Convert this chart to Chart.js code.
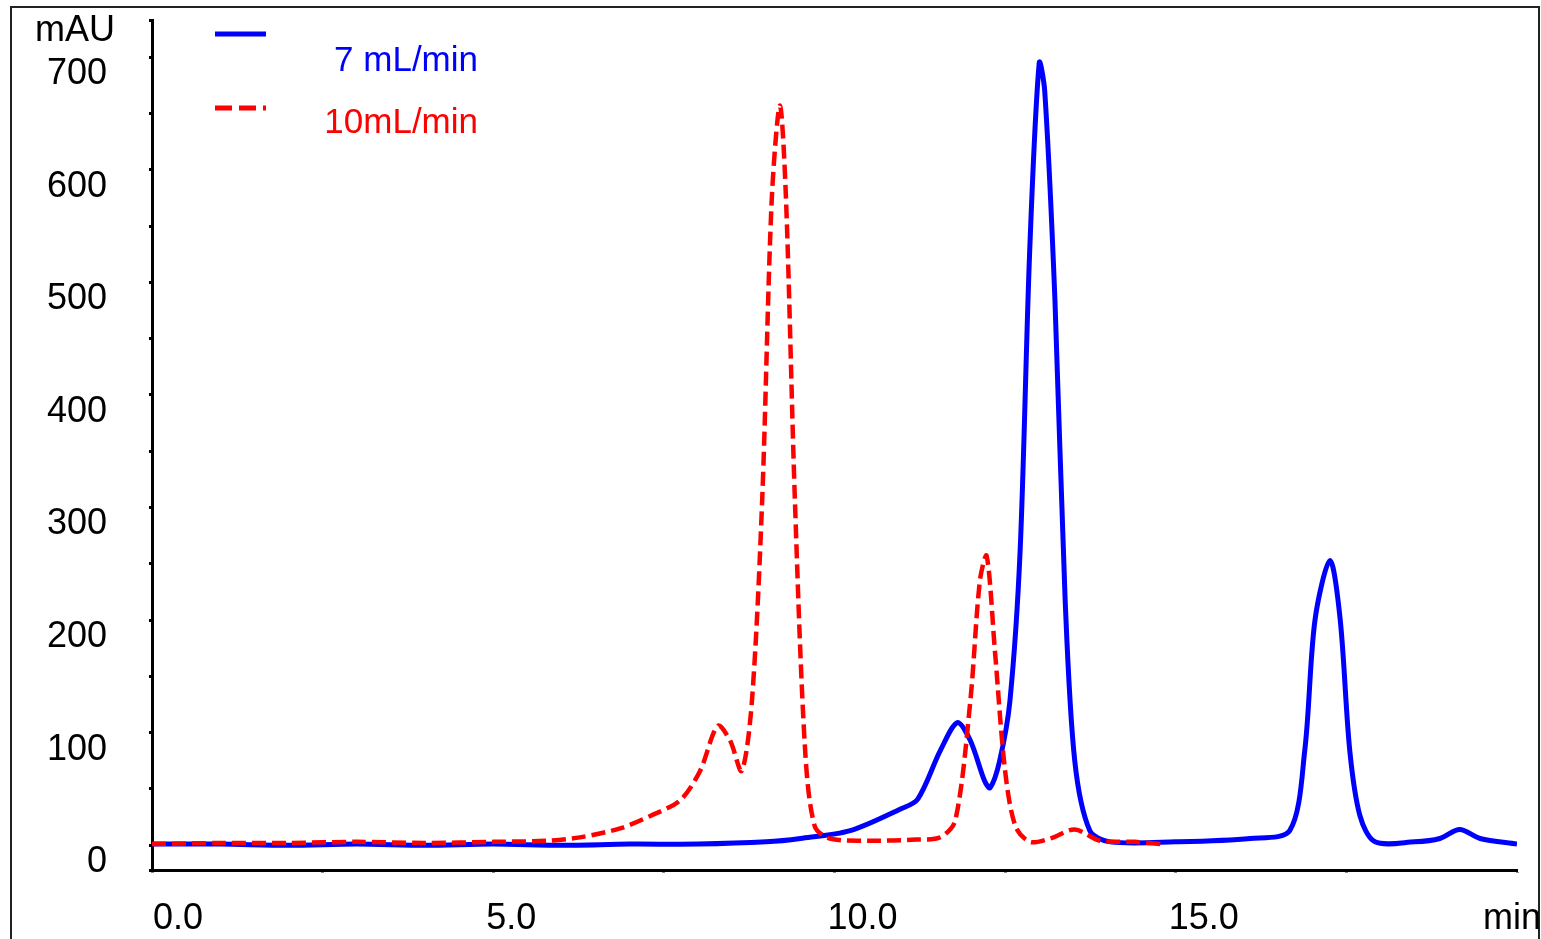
<!DOCTYPE html>
<html>
<head>
<meta charset="utf-8">
<script src="https://cdn.jsdelivr.net/npm/chart.js@4/dist/chart.umd.min.js"></script>
<style>
  html, body { margin: 0; padding: 0; background: #fff; }
</style>
</head>
<body>
<canvas id="chroma" width="1541" height="939"></canvas>
<script>
// 7 mL/min trace
const blueTime = [0, 1, 2, 3, 4, 5, 6, 7, 8, 9, 9.5, 10.23, 10.96, 11.22, 11.55, 11.8, 11.99, 12.2, 12.28, 12.42, 12.57, 12.72, 12.86, 13.0, 13.08, 13.23, 13.38, 13.52, 13.74, 14.04, 15, 16.09, 16.67, 16.89, 17.04, 17.26, 17.41, 17.55, 17.7, 17.92, 18.5, 18.87, 19.16, 19.46, 20];
const blueAbs = [1, 1, 0, 1, 0, 1, 0, 1, 1, 3, 6, 13, 32, 41, 84, 109, 93, 57, 51, 75, 128, 262, 528, 695, 670, 484, 217, 75, 13, 3, 3, 6, 13, 84, 200, 253, 200, 84, 26, 3, 3, 6, 14, 6, 1];

// 10 mL/min trace
const redTime = [0, 1, 2, 3, 4, 5, 5.8, 6.27, 6.86, 7.3, 7.74, 8.03, 8.29, 8.47, 8.64, 8.79, 8.94, 9.08, 9.2, 9.29, 9.42, 9.57, 9.71, 9.93, 10.5, 11.2, 11.55, 11.77, 11.99, 12.13, 12.23, 12.35, 12.5, 12.65, 12.86, 13.16, 13.52, 13.89, 14.4, 14.8];
const redAbs = [1, 2, 2, 3, 2, 3, 4, 7, 15, 26, 40, 66, 106, 93, 66, 128, 306, 573, 657, 573, 306, 84, 17, 6, 4, 5, 7, 22, 128, 235, 257, 173, 66, 17, 3, 6, 14, 4, 3, 1];

const xLabels = [0, 5, 10, 15];
const yLabels = [0, 100, 200, 300, 400, 500, 600, 700];

const pts = (t, v) => t.map((x, i) => ({ x: x, y: v[i] }));
const FONT = '"Liberation Sans", Arial, sans-serif';

const textPlugin = {
  id: "textPlugin",
  afterDraw(chart) {
    const c = chart.ctx;
    const xs = chart.scales.x, ys = chart.scales.y;
    c.save();
    // outer frame
    c.strokeStyle = "#222";
    c.lineWidth = 2;
    c.beginPath();
    c.moveTo(11, 939);
    c.lineTo(11, 7);
    c.lineTo(1539, 7);
    c.lineTo(1539, 939);
    c.stroke();

    c.fillStyle = "#000";
    c.font = "36px " + FONT;
    c.textAlign = "right";
    c.textBaseline = "middle";
    yLabels.forEach(v => c.fillText(String(v), 107, ys.getPixelForValue(v) + 17));
    c.textAlign = "center";
    c.fillText("mAU", 75, 31);

    c.textAlign = "left";
    xLabels.forEach(v => c.fillText(v.toFixed(1), xs.getPixelForValue(v) + (v === 0 ? 1 : -7), 919));
    c.textAlign = "right";
    c.fillText("min", 1541, 919);

    // legend
    c.lineWidth = 5;
    c.strokeStyle = "#0000ff";
    c.beginPath(); c.moveTo(215, 34); c.lineTo(266, 34); c.stroke();
    c.strokeStyle = "#ff0000";
    c.setLineDash([17, 7]);
    c.beginPath(); c.moveTo(215, 108); c.lineTo(266, 108); c.stroke();
    c.setLineDash([]);
    c.textAlign = "right";
    c.font = "35px " + FONT;
    c.fillStyle = "#0000ff";
    c.fillText("7 mL/min", 478, 61);
    c.fillStyle = "#ff0000";
    c.fillText("10mL/min", 478, 123);
    c.restore();
  }
};

new Chart(document.getElementById("chroma").getContext("2d"), {
  type: "line",
  data: {
    datasets: [
      {
        label: "10mL/min",
        data: pts(redTime, redAbs),
        borderColor: "#ff0000",
        borderWidth: 4.5,
        borderDash: [14, 6],
        pointRadius: 0,
        tension: 0.3,
      },
      {
        label: "7 mL/min",
        data: pts(blueTime, blueAbs),
        borderColor: "#0000ff",
        borderWidth: 5,
        pointRadius: 0,
        tension: 0.3,
      },
    ],
  },
  options: {
    responsive: false,
    animation: false,
    layout: { padding: { top: 20, right: 24, left: 0, bottom: 0 } },
    plugins: { legend: { display: false }, tooltip: { enabled: false } },
    scales: {
      x: {
        type: "linear",
        min: 0,
        max: 20,
        ticks: { display: false, stepSize: 2.5 },
        grid: { drawOnChartArea: false, tickLength: 3, tickColor: "#888", tickWidth: 3 },
        border: { color: "#000", width: 3 },
        afterFit(s) { s.height = 69; },
      },
      y: {
        min: -22,
        max: 733,
        ticks: { display: false, stepSize: 50 },
        grid: { drawOnChartArea: false, tickLength: 3, tickColor: "#000", tickWidth: 3 },
        border: { color: "#000", width: 3 },
        afterFit(s) { s.width = 152; },
      },
    },
  },
  plugins: [textPlugin],
});
</script>
</body>
</html>
